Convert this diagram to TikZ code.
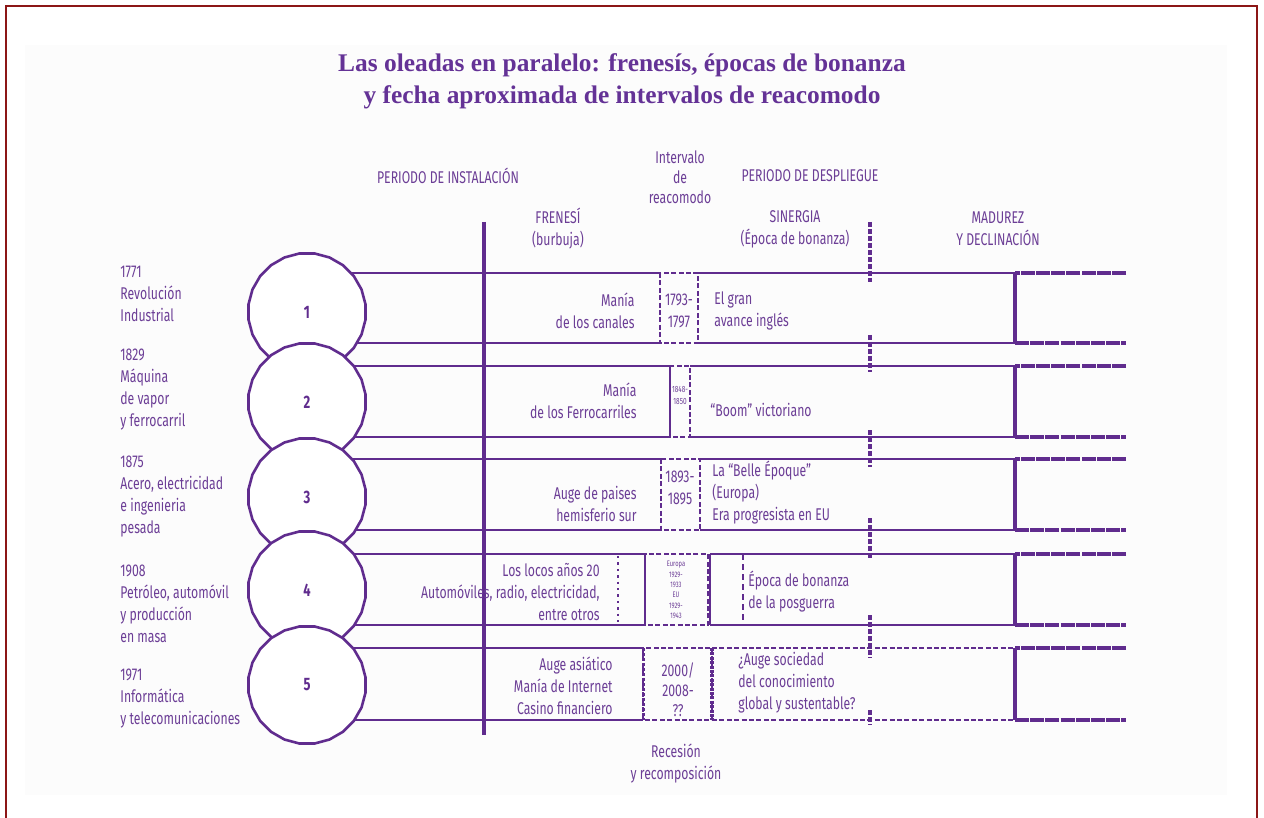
\documentclass[tikz,border=0pt]{standalone}
\usepackage{fontspec}
\setmainfont{Liberation Serif}
\newfontfamily\wavefont[FakeStretch=0.72]{Fira Sans}
\usepackage{tikz}
\usetikzlibrary{shapes.geometric}
\usetikzlibrary{positioning}
\definecolor{wave}{RGB}{96,44,142}
\definecolor{wavetext}{RGB}{108,62,150}
\definecolor{wavetitle}{RGB}{100,50,150}
\definecolor{frame}{RGB}{140,22,22}
\tikzset{lbl/.style={font=\wavefont\fontsize{8.5}{11}\selectfont, text=wavetext, inner sep=0pt}}
\tikzset{tinylbl/.style={font=\wavefont\fontsize{4.5}{6}\selectfont, text=wavetext, inner sep=0pt, align=center}}
\tikzset{rowline/.style={draw=wave, line width=0.7pt}}
\tikzset{gapline/.style={draw=wave, line width=0.9pt, dash pattern=on 2.5pt off 1.2pt}}
\tikzset{madline/.style={draw=wave, line width=2pt, dash pattern=on 7pt off 0.6pt}}
\tikzset{axisline/.style={draw=wave, line width=1.7pt}}
\tikzset{wavecircle/.style={regular polygon, regular polygon sides=24, minimum size=59pt, inner sep=0pt, draw=wave, line width=1.3pt, fill=white, text=wave, font=\wavefont\bfseries\fontsize{9}{9}\selectfont}}

\begin{document}
\begin{tikzpicture}[x=0.5pt,y=-0.5pt]
		\useasboundingbox (0,0) rectangle (1264,818);
		\fill[black!1] (25,45) rectangle (1227,795);
		\draw[frame, line width=1.2pt] (6,818) -- (6,6) -- (1257,6) -- (1257,818);
		\node[font=\bfseries\fontsize{12.7}{16}\selectfont, text=wavetitle, align=center] (title) at (622,81) {Las oleadas en paralelo: frenesís, épocas de bonanza\\y fecha aproximada de intervalos de reacomodo};
		\node[lbl] (inst) at (448,176) {PERIODO DE INSTALACIÓN};
		\node[lbl, align=center, font=\wavefont\fontsize{8.5}{10}\selectfont] (reac) at (680,177) {Intervalo\\de\\reacomodo};
		\node[lbl] (desp) at (810,176) {PERIODO DE DESPLIEGUE};
		\node[lbl, align=center] (fren) at (558,229) {FRENESÍ\\(burbuja)};
		\node[lbl, align=center] (sin) at (795,229) {SINERGIA\\(Época de bonanza)};
		\node[lbl, align=center] (mad) at (998,229) {MADUREZ\\Y DECLINACIÓN};
		\node[lbl, align=center] (rec) at (676,763) {Recesión\\y recomposición};
		\foreach \t/\b/\l/\r in {273/343/660/698, 366/437/670/690, 459/530/661/700, 554/625/645/708, 648/720/643/712}{
			\draw[rowline] (307,\t) -- (\l,\t) (307,\b) -- (\l,\b);
			\draw[gapline] (\l,\t) rectangle (\r,\b);
			\draw[madline] (1126,\t) -- (1015,\t) (1015,\b) -- (1126,\b);
			\draw[axisline] (1015,\t) -- (1015,\b);
		}
		\foreach \t/\b/\r in {273/343/698, 366/437/690, 459/530/700, 554/625/710}
			\draw[rowline] (\r,\t) -- (1015,\t) (\r,\b) -- (1015,\b);
		\draw[gapline] (712,648) -- (1015,648) (712,720) -- (1015,720);
		\draw[wave, line width=1.4pt] (670,366) -- (670,437);
		\draw[rowline] (645,554) -- (645,625) (710,554) -- (710,625);
		\draw[wave, line width=1.2pt, dotted] (618,556) -- (618,623);
		\draw[wave, line width=0.6pt, densely dashed] (743,554) -- (743,625);
		\draw[wave, line width=1.5pt, densely dotted] (643,648) -- (643,720);
		\draw[wave, line width=2pt, dash pattern=on 1.5pt off 0.7pt] (712,648) -- (712,720);
		\draw[axisline] (484,222) -- (484,735);
		\foreach \ya/\yb in {222/282, 335/372, 430/467, 518/560, 615/658, 710/725}
			\draw[wave, line width=1.8pt, dash pattern=on 2.5pt off 1pt] (870,\ya) -- (870,\yb);
		\node[wavecircle] (w1) at (307,312) {1};
		\node[wavecircle] (w2) at (307,402) {2};
		\node[wavecircle] (w3) at (307,497) {3};
		\node[wavecircle] (w4) at (307,590) {4};
		\node[wavecircle] (w5) at (307,685) {5};
		\node[lbl, align=left, anchor=west] (y1) at (120,294) {1771\\Revolución\\Industrial};
		\node[lbl, align=left, anchor=west] (y2) at (120,390) {1829\\Máquina\\de vapor\\y ferrocarril};
		\node[lbl, align=left, anchor=west] (y3) at (120,497) {1875\\Acero, electricidad\\e ingenieria\\pesada};
		\node[lbl, align=left, anchor=west] (y4) at (120,604) {1908\\Petróleo, automóvil\\y producción\\en masa};
		\node[lbl, align=left, anchor=west] (y5) at (120,699) {1971\\Informática\\y telecomunicaciones};
		\node[lbl, align=right, anchor=east] (f1) at (635,311) {Manía\\de los canales};
		\node[lbl, align=right, anchor=east] (f2) at (637,401) {Manía\\de los Ferrocarriles};
		\node[lbl, align=right, anchor=east] (f3) at (637,504) {Auge de paises\\hemisferio sur};
		\node[lbl, align=right, anchor=east] (f4) at (600,592) {Los locos años 20\\Automóviles, radio, electricidad,\\entre otros};
		\node[lbl, align=right, anchor=east] (f5) at (613,686) {Auge asiático\\Manía de Internet\\Casino financiero};
		\node[lbl, align=center] (i1) at (679,311) {1793-\\1797};
		\node[tinylbl] (i2) at (680,395) {1848-\\1850};
		\node[lbl, align=center] (i3) at (680,488) {1893-\\1895};
		\node[tinylbl, font=\wavefont\fontsize{4}{5.2}\selectfont] (i4) at (676,590) {Europa\\1929-\\1933\\EU\\1929-\\1943};
		\node[lbl, align=center, font=\wavefont\fontsize{8.5}{10}\selectfont] (i5) at (678,690) {2000/\\2008-\\??};
		\node[lbl, align=left, anchor=west] (s1) at (714,311) {El gran\\avance inglés};
		\node[lbl, align=left, anchor=west] (s2) at (710,410) {“Boom” victoriano};
		\node[lbl, align=left, anchor=west] (s3) at (712,493) {La “Belle Époque”\\(Europa)\\Era progresista en EU};
		\node[lbl, align=left, anchor=west] (s4) at (748,592) {Época de bonanza\\de la posguerra};
		\node[lbl, align=left, anchor=west] (s5) at (738,683) {¿Auge sociedad\\del conocimiento\\global y sustentable?};
	\end{tikzpicture}
\end{document}
